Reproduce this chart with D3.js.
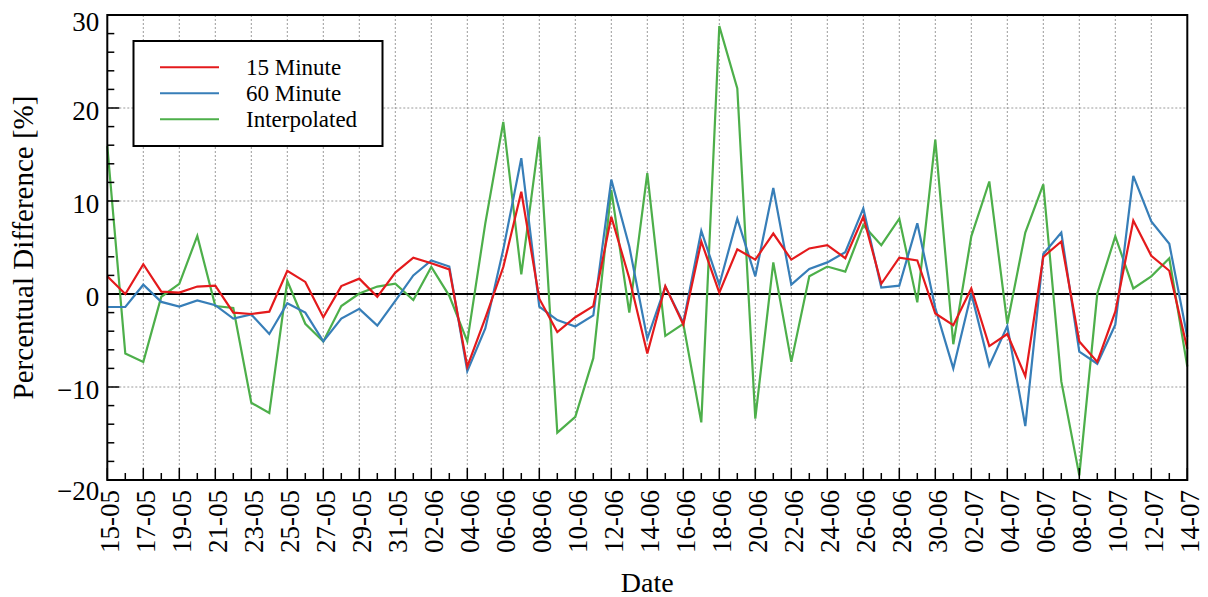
<!DOCTYPE html>
<html>
<head>
<meta charset="utf-8">
<script src="https://cdn.jsdelivr.net/npm/d3@7"></script>
<style>
  html, body { margin: 0; padding: 0; background: #fff; }
  svg { display: block; }
  text { font-family: "Liberation Serif", "Times New Roman", serif; fill: #000; }
</style>
</head>
<body>
<svg id="chart" width="1208" height="597"></svg>
<script>
const dates = [
  "15-05","16-05","17-05","18-05","19-05","20-05","21-05","22-05","23-05","24-05",
  "25-05","26-05","27-05","28-05","29-05","30-05","31-05","01-06","02-06","03-06",
  "04-06","05-06","06-06","07-06","08-06","09-06","10-06","11-06","12-06","13-06",
  "14-06","15-06","16-06","17-06","18-06","19-06","20-06","21-06","22-06","23-06",
  "24-06","25-06","26-06","27-06","28-06","29-06","30-06","01-07","02-07","03-07",
  "04-07","05-07","06-07","07-07","08-07","09-07","10-07","11-07","12-07","13-07",
  "14-07"
];

const min15 = [
  1.9, 0.0, 3.2, 0.25, 0.15, 0.8, 0.9, -2.0, -2.15, -1.9,
  2.5, 1.3, -2.5, 0.85, 1.65, -0.3, 2.3, 3.9, 3.3, 2.65,
  -7.8, -2.6, 2.9, 11.0, -0.5, -4.1, -2.5, -1.3, 8.3, 1.7,
  -6.4, 0.85, -3.3, 5.65, 0.15, 4.8, 3.7, 6.5, 3.7, 4.9,
  5.25, 3.85, 8.3, 1.1, 3.9, 3.6, -2.1, -3.35, 0.6, -5.6,
  -4.3, -8.85, 4.0, 5.65, -5.1, -7.3, -1.9, 7.9, 4.1, 2.5,
  -5.9
];

const min60 = [
  -1.4, -1.4, 1.0, -0.85, -1.35, -0.7, -1.2, -2.65, -2.2, -4.3,
  -1.0, -2.0, -5.1, -2.65, -1.6, -3.4, -0.75, 2.0, 3.6, 2.95,
  -8.3, -3.7, 4.8, 14.6, -1.35, -2.8, -3.5, -2.3, 12.3, 5.1,
  -4.8, 0.8, -3.1, 6.8, 1.0, 8.1, 1.9, 11.4, 1.0, 2.7,
  3.4, 4.5, 9.2, 0.7, 0.9, 7.6, -1.5, -8.0, 0.05, -7.7,
  -3.45, -14.2, 4.3, 6.6, -6.2, -7.5, -3.3, 12.7, 7.8, 5.4,
  -4.6
];

const interpolated = [
  15.9, -6.4, -7.3, -0.3, 1.1, 6.25, -1.3, -1.5, -11.7, -12.8,
  1.4, -3.2, -5.1, -1.3, 0.05, 0.8, 1.1, -0.65, 2.9, -0.2,
  -5.1, 7.6, 18.5, 2.1, 16.9, -14.9, -13.2, -6.9, 11.2, -2.0,
  13.0, -4.5, -3.2, -13.8, 28.8, 22.1, -13.4, 3.4, -7.3, 1.9,
  2.95, 2.4, 7.4, 5.25, 8.1, -0.9, 16.6, -5.4, 6.2, 12.1,
  -3.2, 6.6, 11.8, -9.4, -19.5, 0.05, 6.2, 0.6, 1.9, 3.85,
  -7.8
];

const seriesNames = ["15 Minute", "60 Minute", "Interpolated"];
const seriesColors = ["#e41a1c", "#377eb8", "#4daf4a"];
const yMajorTicks = [-20, -10, 0, 10, 20, 30];
const yMinorTicks = [-18,-16,-14,-12,-8,-6,-4,-2,2,4,6,8,12,14,16,18,22,24,26,28];

const svg = d3.select("#chart");
const W = 1208, H = 597;
const m = { left: 107.3, right: 1187.3, top: 15, bottom: 480 };

svg.append("rect").attr("width", W).attr("height", H).attr("fill", "#fff");

const x = d3.scalePoint().domain(dates).range([m.left, m.right]);
const y = d3.scaleLinear().domain([-20, 30]).range([m.bottom, m.top]);

const majorDates = dates.filter((d, i) => i % 2 === 0);
const minorDates = dates.filter((d, i) => i % 2 === 1);

// grid
const grid = svg.append("g").attr("stroke", "#9a9a9a").attr("stroke-width", 1)
  .attr("stroke-dasharray", "2,2").attr("fill", "none");
grid.selectAll("line.vx").data(majorDates.slice(1, -1)).join("line")
  .attr("class", "vx")
  .attr("x1", d => x(d)).attr("x2", d => x(d))
  .attr("y1", m.top).attr("y2", m.bottom);
grid.selectAll("line.hy").data(yMajorTicks.filter(v => v !== 0 && v !== -20 && v !== 30)).join("line")
  .attr("class", "hy")
  .attr("x1", m.left).attr("x2", m.right)
  .attr("y1", d => y(d)).attr("y2", d => y(d));

// zero line
svg.append("line")
  .attr("x1", m.left).attr("x2", m.right)
  .attr("y1", y(0)).attr("y2", y(0))
  .attr("stroke", "#000").attr("stroke-width", 2);

// series
const allSeries = [min15, min60, interpolated];
const line = d3.line().x((d, i) => x(dates[i])).y(d => y(d));
const order = [2, 1, 0];
order.forEach(k => {
  svg.append("path")
    .datum(allSeries[k])
    .attr("d", line)
    .attr("fill", "none")
    .attr("stroke", seriesColors[k])
    .attr("stroke-width", 2.2)
    .attr("stroke-linejoin", "miter");
});

// ticks (inward)
const ticks = svg.append("g").attr("stroke", "#000").attr("stroke-width", 1.5);
ticks.selectAll("line.xmaj").data(majorDates).join("line").attr("class", "xmaj")
  .attr("x1", d => x(d)).attr("x2", d => x(d))
  .attr("y1", m.bottom).attr("y2", m.bottom - 12);
ticks.selectAll("line.xmin").data(minorDates).join("line").attr("class", "xmin")
  .attr("x1", d => x(d)).attr("x2", d => x(d))
  .attr("y1", m.bottom).attr("y2", m.bottom - 7);
ticks.selectAll("line.ymaj").data(yMajorTicks).join("line").attr("class", "ymaj")
  .attr("x1", m.left).attr("x2", m.left + 12)
  .attr("y1", d => y(d)).attr("y2", d => y(d));
ticks.selectAll("line.ymin").data(yMinorTicks).join("line").attr("class", "ymin")
  .attr("x1", m.left).attr("x2", m.left + 7)
  .attr("y1", d => y(d)).attr("y2", d => y(d));

// frame
svg.append("rect")
  .attr("x", m.left).attr("y", m.top)
  .attr("width", m.right - m.left).attr("height", m.bottom - m.top)
  .attr("fill", "none").attr("stroke", "#000").attr("stroke-width", 2);

// y tick labels
const fmt = d3.format("d");
svg.append("g").selectAll("text").data(yMajorTicks).join("text")
  .attr("x", m.left - 8)
  .attr("y", d => y(d) + (d === 30 ? 16 : d === -20 ? 20 : 12))
  .attr("text-anchor", "end")
  .attr("font-size", 27)
  .text(d => fmt(d));

// x tick labels
svg.append("g").selectAll("text").data(majorDates).join("text")
  .attr("transform", d => `translate(${x(d) + 12},${m.bottom + 10}) rotate(-90)`)
  .attr("text-anchor", "end")
  .attr("font-size", 27)
  .text(d => d);

// axis titles
svg.append("text")
  .attr("x", (m.left + m.right) / 2).attr("y", 592)
  .attr("text-anchor", "middle").attr("font-size", 28)
  .text("Date");
svg.append("text")
  .attr("transform", `translate(33,${(m.top + m.bottom) / 2}) rotate(-90)`)
  .attr("text-anchor", "middle").attr("font-size", 29)
  .text("Percentual Difference [%]");

// legend
const lg = svg.append("g");
lg.append("rect").attr("x", 133.5).attr("y", 41).attr("width", 249).attr("height", 105)
  .attr("fill", "#fff").attr("stroke", "#000").attr("stroke-width", 2);
seriesNames.forEach((name, k) => {
  const ly = 67.3 + k * 26;
  lg.append("line").attr("x1", 160).attr("x2", 219).attr("y1", ly).attr("y2", ly)
    .attr("stroke", seriesColors[k]).attr("stroke-width", 2);
  lg.append("text").attr("x", 246).attr("y", ly + 8)
    .attr("font-size", 23).text(name);
});
</script>
</body>
</html>
